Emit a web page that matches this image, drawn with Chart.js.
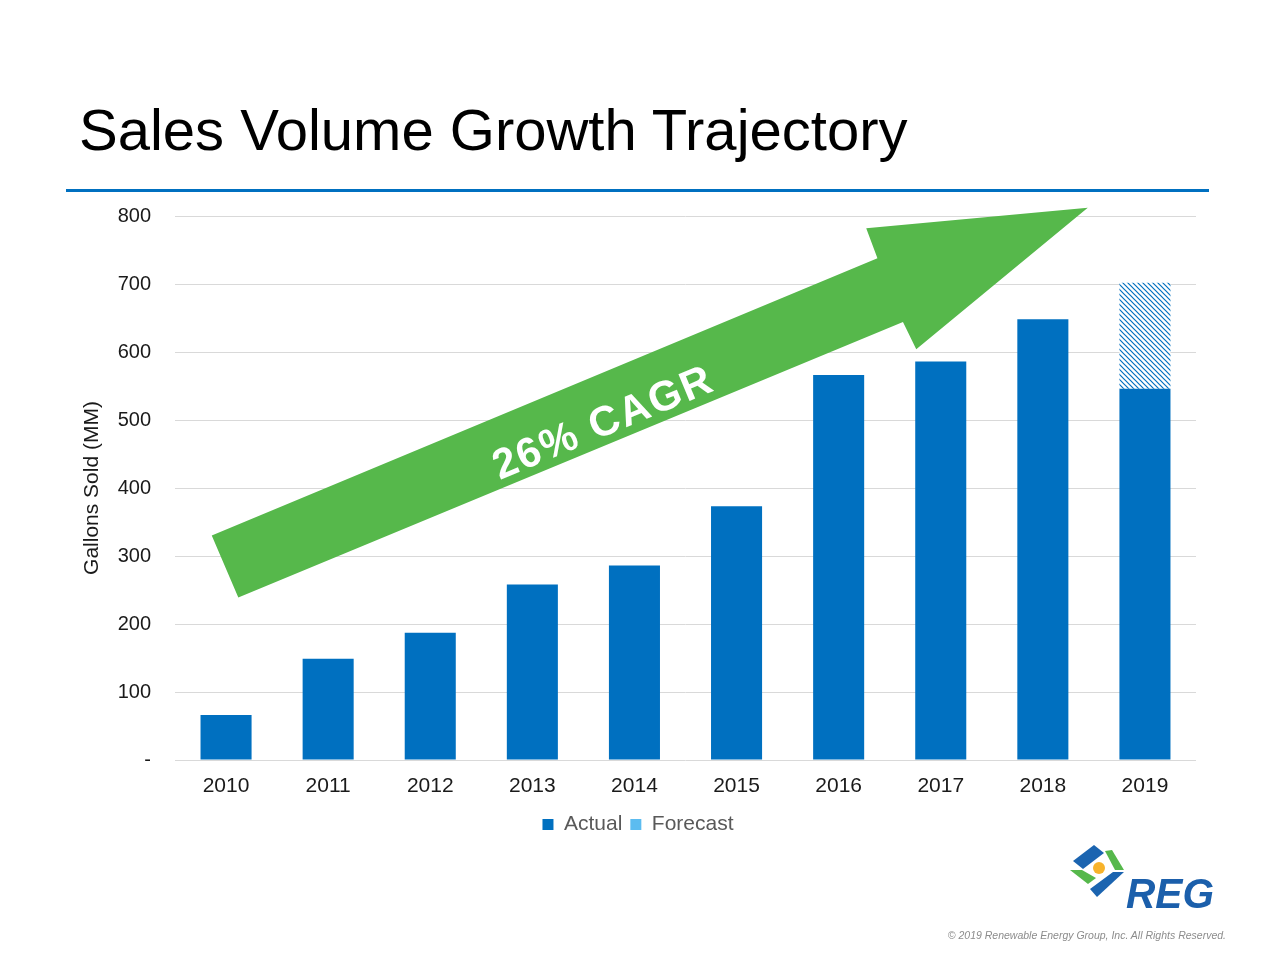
<!DOCTYPE html>
<html>
<head>
<meta charset="utf-8">
<script src="https://cdn.jsdelivr.net/npm/chart.js@4.4.1/dist/chart.umd.min.js"></script>
<style>
  html, body { margin: 0; padding: 0; background: #fff; }
  #page { position: relative; width: 1280px; height: 960px; overflow: hidden; font-family: "Liberation Sans", Arial, sans-serif; }
  #title { position: absolute; left: 79px; top: 96px; font-size: 58px; color: #000; white-space: nowrap; }
  #rule { position: absolute; left: 66px; top: 189px; width: 1143px; height: 3px; background: #0070c0; }
  #chart { position: absolute; left: 0; top: 0; }
  #logo { position: absolute; left: 1060px; top: 840px; }
  #copy { position: absolute; right: 54px; top: 929px; font-size: 10.5px; font-style: italic; color: #8c8c8c; white-space: nowrap; }
</style>
</head>
<body>
<div id="page">
  <div id="title">Sales Volume Growth Trajectory</div>
  <div id="rule"></div>
  <canvas id="chart" width="1280" height="960"></canvas>
  <svg id="logo" width="165" height="80" viewBox="0 0 165 80">
    <polygon points="13,21 34,5 44,13 23,29" fill="#1b64b0"/>
    <polygon points="45,11 52,10 64,30 55,30" fill="#56b84b"/>
    <polygon points="10,30 22,30 36,38 28,44" fill="#56b84b"/>
    <polygon points="30,49 53,32 64,32 37,57" fill="#1b64b0"/>
    <circle cx="39" cy="28" r="6" fill="#f7b32b"/>
    <text x="66" y="68" font-family="Liberation Sans, Arial, sans-serif" font-size="42" font-weight="bold" font-style="italic" fill="#1b5fab" textLength="88" lengthAdjust="spacingAndGlyphs">REG</text>
  </svg>
  <div id="copy">© 2019 Renewable Energy Group, Inc. All Rights Reserved.</div>
</div>
<script>
// data
const years = ["2010", "2011", "2012", "2013", "2014", "2015", "2016", "2017", "2018", "2019"];
const actual = [66, 149, 187, 258, 286, 373, 566, 586, 648, 546];
const forecast = [null, null, null, null, null, null, null, null, null, 156];
const yTicks = [0, 100, 200, 300, 400, 500, 600, 700, 800];

// arrow outline in (category index, gallons) so it follows the axes
const arrowX = [-0.14, 0.12, 6.63, 6.76, 8.44, 6.27, 6.38];
const arrowY = [330, 239, 644, 604, 812, 782, 738];
const arrowLabel = "26% CAGR";
const arrowLabelAt = [3.7, 494];

const BLUE = "#0070c0";
const LIGHT_BLUE = "#5cbcf0";
const GREEN = "#56b84b";

// hatch for the forecast part of the 2019 bar
function makeHatch() {
  const c = document.createElement("canvas");
  c.width = 5; c.height = 5;
  const g = c.getContext("2d");
  g.fillStyle = "#ffffff";
  g.fillRect(0, 0, 5, 5);
  g.strokeStyle = BLUE;
  g.lineWidth = 1.2;
  g.beginPath();
  g.moveTo(-1, -1); g.lineTo(6, 6);
  g.moveTo(-1, 4); g.lineTo(1, 6);
  g.moveTo(4, -1); g.lineTo(6, 1);
  g.stroke();
  return g.createPattern(c, "repeat");
}

const arrowPlugin = {
  id: "cagrArrow",
  afterDatasetsDraw(chart) {
    const ctx = chart.ctx;
    const xs = chart.scales.x, ys = chart.scales.y;
    const pts = arrowX.map((v, i) => [xs.getPixelForValue(v), ys.getPixelForValue(arrowY[i])]);
    ctx.save();
    ctx.fillStyle = GREEN;
    ctx.beginPath();
    pts.forEach((p, i) => i ? ctx.lineTo(p[0], p[1]) : ctx.moveTo(p[0], p[1]));
    ctx.closePath();
    ctx.fill();

    // text follows the shaft angle
    const a = pts[0], b = pts[6];
    const ang = Math.atan2(b[1] - a[1], b[0] - a[0]);
    ctx.translate(xs.getPixelForValue(arrowLabelAt[0]), ys.getPixelForValue(arrowLabelAt[1]));
    ctx.rotate(ang);
    ctx.fillStyle = "#ffffff";
    ctx.font = "bold 42px 'Liberation Sans', Arial, sans-serif";
    ctx.textAlign = "center";
    ctx.textBaseline = "middle";
    ctx.letterSpacing = "2px";
    ctx.fillText(arrowLabel, 0, 0);
    ctx.restore();
  }
};

const ctx = document.getElementById("chart").getContext("2d");
new Chart(ctx, {
  type: "bar",
  data: {
    labels: years,
    datasets: [
      { label: "Actual", data: actual, backgroundColor: BLUE },
      { label: "Forecast", data: forecast, backgroundColor: makeHatch() }
    ]
  },
  options: {
    responsive: false,
    animation: false,
    layout: { padding: { left: 80, top: 216, right: 84, bottom: 115 } },
    datasets: { bar: { barPercentage: 0.5, categoryPercentage: 1.0 } },
    scales: {
      x: {
        stacked: true,
        grid: { display: false },
        border: { display: false },
        ticks: { color: "#1a1a1a", padding: 6, font: { size: 21, family: "'Liberation Sans', Arial, sans-serif" } },
        afterFit(s) { s.height = 46; }
      },
      y: {
        stacked: true,
        min: 0,
        max: 800,
        afterBuildTicks(s) { s.ticks = yTicks.map(v => ({ value: v })); },
        grid: { color: "#d9d9d9", drawTicks: false },
        border: { display: false },
        ticks: {
          color: "#1a1a1a",
          padding: 24,
          font: { size: 20, family: "'Liberation Sans', Arial, sans-serif" },
          callback: v => v === 0 ? "-" : v
        },
        title: {
          display: true,
          text: "Gallons Sold (MM)",
          color: "#1a1a1a",
          padding: 0,
          font: { size: 21, family: "'Liberation Sans', Arial, sans-serif" }
        },
        afterFit(s) { s.width = 95; }
      }
    },
    plugins: {
      tooltip: { enabled: false },
      legend: {
        position: "bottom",
        labels: {
          boxWidth: 11,
          boxHeight: 11,
          padding: 8,
          color: "#595959",
          font: { size: 21, family: "'Liberation Sans', Arial, sans-serif" },
          generateLabels(chart) {
            const items = Chart.defaults.plugins.legend.labels.generateLabels(chart);
            items.forEach(it => {
              it.fillStyle = it.datasetIndex === 1 ? LIGHT_BLUE : BLUE;
              it.strokeStyle = "transparent";
              it.lineWidth = 0;
            });
            return items;
          }
        }
      }
    }
  },
  plugins: [arrowPlugin]
});
</script>
</body>
</html>
